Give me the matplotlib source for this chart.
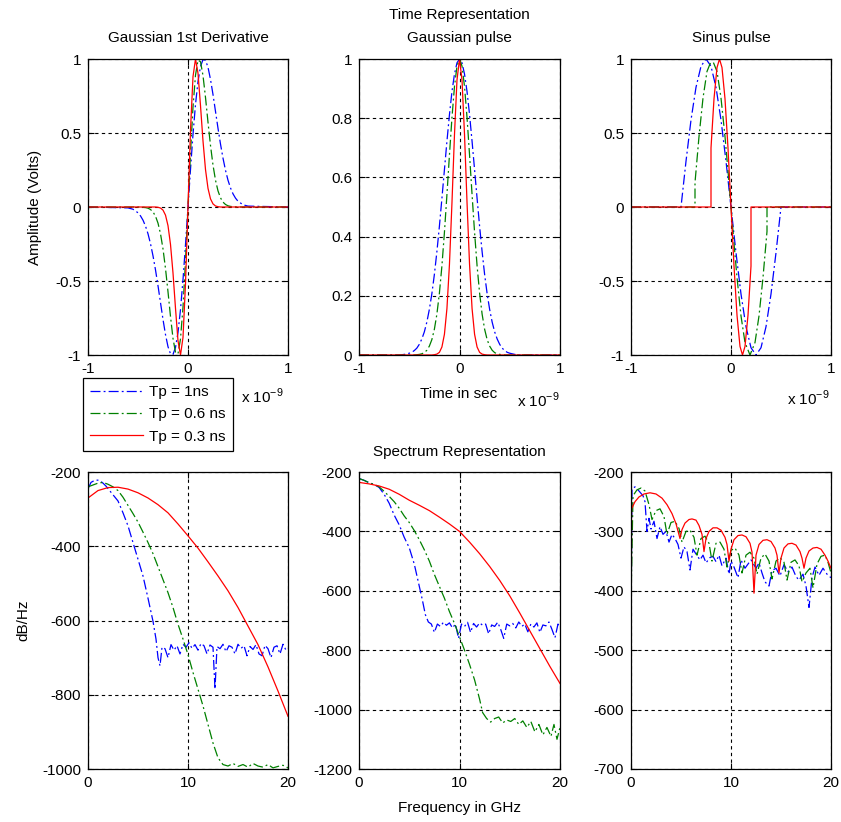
import matplotlib
matplotlib.use("Agg")
from matplotlib import pyplot as plt

plt.rcParams['font.family'] = ['Liberation Sans', 'DejaVu Sans']
plt.rcParams['axes.unicode_minus'] = False

# ---- time axis (ns) shared by the gaussian plots ----
t_ns = [-1.0, -0.6, -0.55, -0.5, -0.475, -0.45, -0.425, -0.4, -0.375, -0.35, -0.325, -0.3,
        -0.275, -0.25, -0.225, -0.2, -0.175, -0.15, -0.125, -0.1, -0.075, -0.05, -0.025,
        0.0, 0.025, 0.05, 0.075, 0.1, 0.125, 0.15, 0.175, 0.2, 0.225, 0.25, 0.275, 0.3,
        0.325, 0.35, 0.375, 0.4, 0.425, 0.45, 0.475, 0.5, 0.55, 0.6, 1.0]

# Gaussian 1st derivative
gd_1ns = [0, -0.006, -0.015, -0.039, -0.060, -0.089, -0.129, -0.181, -0.248, -0.330, -0.425, -0.532,
          -0.646, -0.760, -0.862, -0.944, -0.992, -0.996, -0.949, -0.848, -0.693, -0.491, -0.254,
          0.0, 0.254, 0.491, 0.693, 0.848, 0.949, 0.996, 0.992, 0.944, 0.862, 0.760, 0.646, 0.532,
          0.425, 0.330, 0.248, 0.181, 0.129, 0.089, 0.060, 0.039, 0.015, 0.006, 0]
gd_06ns = [0, 0, 0, 0, -0.001, -0.002, -0.004, -0.008, -0.017, -0.033, -0.062, -0.109,
           -0.181, -0.283, -0.416, -0.573, -0.740, -0.888, -0.982, -0.992, -0.891, -0.676, -0.365,
           0.0, 0.365, 0.676, 0.891, 0.992, 0.982, 0.888, 0.740, 0.573, 0.416, 0.283, 0.181, 0.109,
           0.062, 0.033, 0.017, 0.008, 0.004, 0.002, 0.001, 0, 0, 0, 0]
gd_03ns = [0, 0, 0, 0, 0, 0, 0, 0, 0, 0, 0, -0.002,
           -0.007, -0.021, -0.055, -0.126, -0.253, -0.446, -0.685, -0.904, -1.0, -0.881, -0.520,
           0.0, 0.520, 0.881, 1.0, 0.904, 0.685, 0.446, 0.253, 0.126, 0.055, 0.021, 0.007, 0.002,
           0, 0, 0, 0, 0, 0, 0, 0, 0, 0, 0]

# Gaussian pulse
gp_1ns = [0, 0, 0.002, 0.006, 0.009, 0.015, 0.023, 0.036, 0.054, 0.078, 0.111, 0.154,
          0.207, 0.272, 0.349, 0.435, 0.529, 0.626, 0.722, 0.812, 0.890, 0.949, 0.987,
          1.0, 0.987, 0.949, 0.890, 0.812, 0.722, 0.626, 0.529, 0.435, 0.349, 0.272, 0.207, 0.154,
          0.111, 0.078, 0.054, 0.036, 0.023, 0.015, 0.009, 0.006, 0.002, 0, 0]
gp_06ns = [0, 0, 0, 0, 0, 0, 0.001, 0.002, 0.004, 0.008, 0.016, 0.030,
           0.052, 0.087, 0.138, 0.209, 0.301, 0.414, 0.542, 0.676, 0.802, 0.907, 0.976,
           1.0, 0.976, 0.907, 0.802, 0.676, 0.542, 0.414, 0.301, 0.209, 0.138, 0.087, 0.052, 0.030,
           0.016, 0.008, 0.004, 0.002, 0.001, 0, 0, 0, 0, 0, 0]
gp_03ns = [0, 0, 0, 0, 0, 0, 0, 0, 0, 0, 0, 0,
           0, 0.001, 0.003, 0.009, 0.027, 0.070, 0.157, 0.306, 0.514, 0.744, 0.929,
           1.0, 0.929, 0.744, 0.514, 0.306, 0.157, 0.070, 0.027, 0.009, 0.003, 0.001, 0, 0,
           0, 0, 0, 0, 0, 0, 0, 0, 0, 0, 0]

# Sinus pulse
sp_t_1ns = [-1.0, -0.5, -0.45, -0.4, -0.35, -0.3, -0.25, -0.2, -0.15, -0.1, -0.05, 0.0,
            0.05, 0.1, 0.15, 0.2, 0.25, 0.3, 0.35, 0.4, 0.45, 0.5, 1.0]
sp_1ns = [0, 0, 0.309, 0.588, 0.809, 0.951, 1.0, 0.951, 0.809, 0.588, 0.309, 0.0,
          -0.309, -0.588, -0.809, -0.951, -1.0, -0.951, -0.809, -0.588, -0.309, 0, 0]
sp_t_06ns = [-1.0, -0.36, -0.36, -0.32, -0.28, -0.24, -0.19, -0.14, -0.10, -0.06, -0.03, 0.0,
             0.03, 0.06, 0.10, 0.14, 0.19, 0.24, 0.28, 0.32, 0.36, 0.36, 1.0]
sp_06ns = [0, 0, 0.165, 0.476, 0.736, 0.916, 1.0, 0.916, 0.736, 0.476, 0.245, 0.0,
           -0.245, -0.476, -0.736, -0.916, -1.0, -0.916, -0.736, -0.476, -0.165, 0, 0]
sp_t_03ns = [-1.0, -0.2, -0.2, -0.17, -0.14, -0.115, -0.09, -0.06, -0.03, 0.0,
             0.03, 0.06, 0.09, 0.115, 0.14, 0.17, 0.2, 0.2, 1.0]
sp_03ns = [0, 0, 0.399, 0.731, 0.942, 1.0, 0.942, 0.731, 0.398, 0.0,
           -0.398, -0.731, -0.942, -1.0, -0.942, -0.731, -0.399, 0, 0]

# ---- spectra (GHz, dB/Hz) ----
# gaussian 1st derivative spectrum
s1_f_1ns = [0, 0.3, 0.7, 1.1, 1.5, 1.8, 2.4, 3.0, 3.5, 4.0, 4.5, 5.0, 5.5, 6.0, 6.5, 6.8, 7.0, 7.2,
            7.4, 7.7, 8.0, 8.3, 8.6, 8.9, 9.2, 9.5, 9.8, 10.1, 10.4, 10.7, 11.0, 11.3, 11.6, 11.9,
            12.2, 12.5, 12.7, 12.9, 13.2, 13.5, 13.8, 14.1, 14.4, 14.7, 15.0, 15.3, 15.6, 15.9,
            16.2, 16.5, 16.8, 17.1, 17.4, 17.7, 18.0, 18.3, 18.6, 18.9, 19.2, 19.5, 19.8, 20.0]
s1_1ns = [-245, -228, -222, -222, -230, -238, -258, -278, -310, -345, -390, -435, -480, -540, -602,
          -650, -700, -722, -672, -676, -700, -665, -680, -668, -690, -664, -672, -660, -675, -665,
          -680, -662, -668, -690, -666, -672, -785, -670, -676, -664, -684, -668, -672, -690, -664,
          -675, -668, -695, -670, -678, -665, -690, -695, -667, -676, -700, -672, -668, -690, -664,
          -680, -676]
s1_f_06ns = [0, 0.5, 1.0, 1.5, 2.0, 2.5, 3.0, 3.5, 4.0, 4.5, 5.0, 5.5, 6.0, 6.5, 7.0, 7.5, 8.0, 8.5,
             9.0, 9.5, 10.0, 10.5, 11.0, 11.5, 12.0, 12.5, 13.0, 13.5, 14.0, 14.5, 15.0, 15.5, 16.0,
             16.5, 17.0, 17.5, 18.0, 18.5, 19.0, 19.5, 20.0]
s1_06ns = [-240, -235, -230, -228, -233, -240, -250, -268, -290, -312, -335, -362, -390, -420, -455,
           -490, -525, -565, -610, -650, -692, -740, -785, -830, -880, -930, -970, -988, -992, -985,
           -993, -988, -995, -985, -992, -995, -988, -997, -993, -990, -997]
s1_f_03ns = [0, 1, 2, 3, 4, 5, 6, 7, 8, 9, 10, 11, 12, 13, 14, 15, 16, 17, 18, 19, 20]
s1_03ns = [-270, -250, -242, -241, -246, -256, -270, -288, -310, -340, -372, -405, -442, -480, -520,
           -565, -615, -665, -725, -790, -858]

# gaussian pulse spectrum
s2_f_1ns = [0, 0.5, 1.0, 1.5, 2.0, 2.5, 3.0, 3.5, 4.0, 4.5, 5.0, 5.5, 6.0, 6.3, 6.6, 6.9, 7.2, 7.5,
            7.8, 8.1, 8.4, 8.7, 9.0, 9.3, 9.6, 9.9, 10.2, 10.5, 10.8, 11.1, 11.4, 11.7, 12.0, 12.3,
            12.6, 12.9, 13.2, 13.5, 13.8, 14.1, 14.4, 14.7, 15.0, 15.3, 15.6, 15.9, 16.2, 16.5, 16.8,
            17.1, 17.4, 17.7, 18.0, 18.3, 18.6, 18.9, 19.2, 19.5, 19.8, 20.0]
s2_1ns = [-222, -228, -236, -242, -252, -275, -305, -345, -378, -420, -455, -510, -585, -630, -680,
          -705, -712, -740, -712, -720, -706, -716, -708, -725, -712, -760, -712, -720, -706, -740,
          -710, -722, -708, -716, -712, -745, -715, -720, -706, -730, -760, -712, -718, -710, -725,
          -705, -720, -712, -738, -712, -722, -708, -740, -715, -718, -705, -730, -758, -712, -720]
s2_f_06ns = [0, 0.5, 1.0, 1.5, 2.0, 2.5, 3.0, 3.5, 4.0, 4.5, 5.0, 5.5, 6.0, 6.5, 7.0, 7.5, 8.0, 8.5,
             9.0, 9.5, 10.0, 10.5, 11.0, 11.5, 12.0, 12.3, 12.7, 13.1, 13.5, 13.9, 14.3, 14.7, 15.1,
             15.5, 15.9, 16.3, 16.7, 17.1, 17.5, 17.9, 18.3, 18.7, 19.1, 19.4, 19.7, 20.0]
s2_06ns = [-222, -228, -236, -242, -250, -265, -282, -300, -322, -348, -370, -397, -428, -462, -500,
           -545, -585, -625, -670, -710, -755, -800, -848, -900, -965, -1010, -1030, -1042, -1030,
           -1025, -1045, -1035, -1040, -1030, -1050, -1038, -1060, -1040, -1075, -1050, -1085, -1060,
           -1090, -1050, -1100, -1060]
s2_f_03ns = [0, 1, 2, 3, 4, 5, 6, 6.5, 7, 8, 9, 10, 11, 12, 13, 14, 15, 16, 17, 18, 19, 20]
s2_03ns = [-235, -240, -247, -258, -275, -295, -312, -321, -330, -352, -375, -400, -436, -475, -518,
           -565, -617, -675, -735, -795, -855, -912]

# sinus pulse spectrum
s3_f_1ns = [0, 0.1, 0.4, 0.8, 1.2, 1.4, 1.6, 1.8, 2.0, 2.3, 2.6, 2.9, 3.2, 3.5, 3.8, 4.1, 4.4, 4.7,
            5.0, 5.3, 5.6, 5.9, 6.2, 6.5, 6.9, 7.2, 7.5, 7.9, 8.2, 8.5, 8.8, 9.1, 9.5, 9.8, 10.0,
            10.3, 10.7, 11.0, 11.4, 11.7, 12.0, 12.5, 12.8, 13.1, 13.4, 13.8, 14.1, 14.5, 14.9,
            15.3, 15.7, 16.1, 16.5, 16.8, 17.2, 17.5, 17.8, 18.1, 18.4, 18.8, 19.2, 19.6, 20.0]
s3_1ns = [-460, -228, -225, -232, -240, -250, -300, -278, -296, -283, -312, -292, -305, -300, -318,
          -305, -312, -322, -345, -326, -334, -365, -330, -338, -348, -340, -353, -344, -342, -351,
          -340, -358, -345, -372, -350, -360, -378, -348, -362, -355, -348, -362, -353, -370, -385,
          -392, -366, -362, -375, -356, -368, -360, -376, -382, -372, -392, -428, -378, -360, -374,
          -362, -372, -378]
s3_f_06ns = [0, 0.2, 0.6, 1.0, 1.4, 1.8, 2.1, 2.5, 2.9, 3.3, 3.6, 4.0, 4.4, 4.8, 5.1, 5.5, 5.9, 6.3,
             6.6, 7.0, 7.4, 7.8, 8.1, 8.5, 8.9, 9.3, 9.6, 10.0, 10.4, 10.8, 11.1, 11.5, 11.9, 12.3,
             12.6, 13.0, 13.4, 13.8, 14.1, 14.5, 14.9, 15.3, 15.6, 16.0, 16.4, 16.8, 17.1, 17.5,
             17.9, 18.2, 18.6, 19.0, 19.4, 19.7, 20.0]
s3_06ns = [-420, -240, -230, -227, -232, -255, -280, -265, -262, -275, -305, -285, -283, -295, -318,
           -300, -298, -310, -340, -312, -308, -320, -350, -320, -318, -330, -360, -332, -328, -340,
           -370, -340, -335, -345, -372, -345, -338, -350, -380, -350, -344, -352, -382, -352, -348,
           -358, -385, -370, -362, -395, -355, -342, -340, -352, -370]
s3_f_03ns = [0, 0.05, 0.4, 0.8, 1.3, 1.9, 2.5, 3.1, 3.6, 4.1, 4.5, 4.9,
             5.1, 5.4, 5.8, 6.1, 6.5, 6.8, 7.1, 7.3,
             7.5, 7.8, 8.2, 8.6, 9.0, 9.4, 9.6, 9.8,
             10.0, 10.3, 10.7, 11.1, 11.5, 11.9, 12.1, 12.3,
             12.5, 12.8, 13.2, 13.6, 14.0, 14.4, 14.6, 14.8,
             15.0, 15.3, 15.7, 16.1, 16.5, 16.9, 17.1, 17.3,
             17.5, 17.8, 18.2, 18.6, 19.0, 19.4, 19.7, 20.0]
s3_03ns = [-700, -262, -250, -242, -237, -235, -237, -244, -255, -270, -287, -312,
           -297, -286, -280, -279, -281, -290, -305, -334,
           -312, -300, -294, -294, -298, -310, -322, -350,
           -330, -314, -307, -306, -309, -320, -335, -404,
           -340, -322, -315, -314, -317, -328, -340, -370,
           -345, -328, -321, -320, -323, -334, -345, -362,
           -345, -333, -328, -327, -330, -340, -350, -362]

labels = ['Tp = 1ns', 'Tp = 0.6 ns', 'Tp = 0.3 ns']
colors = [(0, 0, 1), (0, 0.5, 0), (1, 0, 0)]
styles = [(0, (8, 2.5, 1.5, 2.5)), (0, (8, 2.5, 1.5, 2.5)), '-']

W, H = 841, 822
fig = plt.figure(figsize=(W / 100, H / 100), dpi=100)
FS = 11


def make_ax(x0, y0, x1, y1):
    return fig.add_axes([x0 / W, 1 - y1 / H, (x1 - x0) / W, (y1 - y0) / H])


def style_ax(ax, xlim, xticks, ylim, yticks, ylabels):
    ax.set_xlim(xlim)
    ax.set_ylim(ylim)
    ax.set_xticks(xticks)
    ax.set_xticklabels([str(v) for v in xticks])
    ax.set_yticks(yticks)
    ax.set_yticklabels(ylabels)
    ax.tick_params(direction='in', length=4, labelsize=FS, width=0.8, pad=5,
                   top=True, right=True)
    ax.grid(True, color='black', linestyle=(0, (3, 3)), linewidth=0.8)
    for sp in ax.spines.values():
        sp.set_linewidth(0.9)


def ftext(x, y, s, **kw):
    fig.text(x / W, 1 - y / H, s, fontsize=FS, ha='center', va='center', **kw)


top = (59, 355)
bot = (472, 769)
cols = [(88, 288), (359, 560), (631, 831)]

# top-left: gaussian 1st derivative
ax1 = make_ax(cols[0][0], top[0], cols[0][1], top[1])
lines = []
for y, c, ls, lb in zip([gd_1ns, gd_06ns, gd_03ns], colors, styles, labels):
    ln, = ax1.plot(t_ns, y, color=c, linestyle=ls, linewidth=0.9, label=lb)
    lines.append(ln)
style_ax(ax1, (-1, 1), [-1, 0, 1], (-1, 1), [-1, -0.5, 0, 0.5, 1],
         ['-1', '-0.5', '0', '0.5', '1'])

# top-middle: gaussian pulse
ax2 = make_ax(cols[1][0], top[0], cols[1][1], top[1])
for y, c, ls in zip([gp_1ns, gp_06ns, gp_03ns], colors, styles):
    ax2.plot(t_ns, y, color=c, linestyle=ls, linewidth=0.9)
style_ax(ax2, (-1, 1), [-1, 0, 1], (0, 1), [0, 0.2, 0.4, 0.6, 0.8, 1],
         ['0', '0.2', '0.4', '0.6', '0.8', '1'])

# top-right: sinus pulse
ax3 = make_ax(cols[2][0], top[0], cols[2][1], top[1])
for tt, y, c, ls in zip([sp_t_1ns, sp_t_06ns, sp_t_03ns], [sp_1ns, sp_06ns, sp_03ns], colors, styles):
    ax3.plot(tt, y, color=c, linestyle=ls, linewidth=0.9)
style_ax(ax3, (-1, 1), [-1, 0, 1], (-1, 1), [-1, -0.5, 0, 0.5, 1],
         ['-1', '-0.5', '0', '0.5', '1'])

# bottom-left
ax4 = make_ax(cols[0][0], bot[0], cols[0][1], bot[1])
for f, y, c, ls in zip([s1_f_1ns, s1_f_06ns, s1_f_03ns], [s1_1ns, s1_06ns, s1_03ns], colors, styles):
    ax4.plot(f, y, color=c, linestyle=ls, linewidth=0.9)
yt = [-1000, -800, -600, -400, -200]
style_ax(ax4, (0, 20), [0, 10, 20], (-1000, -200), yt, [str(v) for v in yt])

# bottom-middle
ax5 = make_ax(cols[1][0], bot[0], cols[1][1], bot[1])
for f, y, c, ls in zip([s2_f_1ns, s2_f_06ns, s2_f_03ns], [s2_1ns, s2_06ns, s2_03ns], colors, styles):
    ax5.plot(f, y, color=c, linestyle=ls, linewidth=0.9)
yt = [-1200, -1000, -800, -600, -400, -200]
style_ax(ax5, (0, 20), [0, 10, 20], (-1200, -200), yt, [str(v) for v in yt])

# bottom-right
ax6 = make_ax(cols[2][0], bot[0], cols[2][1], bot[1])
for f, y, c, ls in zip([s3_f_1ns, s3_f_06ns, s3_f_03ns], [s3_1ns, s3_06ns, s3_03ns], colors, styles):
    ax6.plot(f, y, color=c, linestyle=ls, linewidth=0.9)
yt = [-700, -600, -500, -400, -300, -200]
style_ax(ax6, (0, 20), [0, 10, 20], (-700, -200), yt, [str(v) for v in yt])

# titles and labels
ftext(188, 38, 'Gaussian 1st Derivative')
ftext(459, 15, 'Time Representation')
ftext(459, 38, 'Gaussian pulse')
ftext(731, 38, 'Sinus pulse')
ftext(459, 452, 'Spectrum Representation')
ftext(459, 394, 'Time in sec')
ftext(459, 808, 'Frequency in GHz')
ftext(35, 207, 'Amplitude (Volts)', rotation=90)
ftext(23, 620, 'dB/Hz', rotation=90)
for xc, yc in [(262, 396), (538, 400), (808, 398)]:
    ftext(xc, yc, r'x 10$^{\mathregular{-9}}$')

leg = fig.legend(lines, labels, loc='upper left',
                 bbox_to_anchor=(83 / W, 1 - 378 / H), fontsize=FS,
                 frameon=True, fancybox=False, edgecolor='black', framealpha=1,
                 handlelength=3.5, handletextpad=0.4, borderpad=0.45, labelspacing=0.55,
                 borderaxespad=0)
leg.get_frame().set_linewidth(0.9)

fig.savefig('out.png', dpi=100)
